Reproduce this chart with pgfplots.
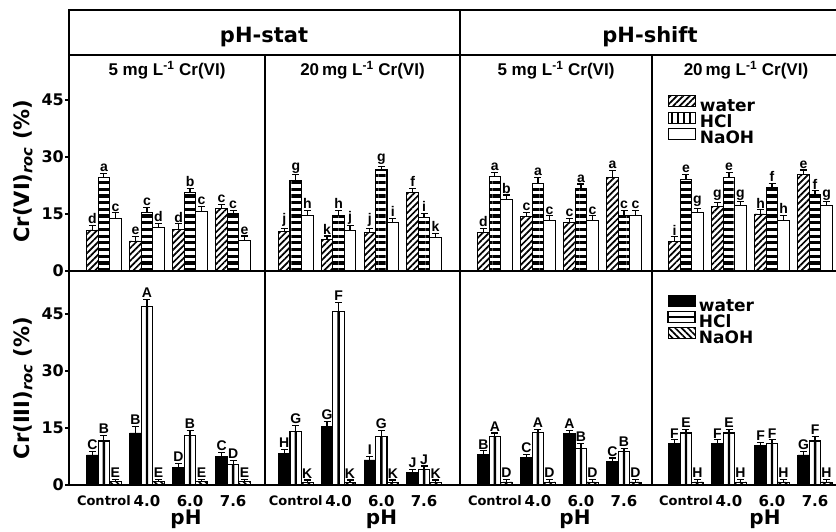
\documentclass[border=0pt]{standalone}
\usepackage{pgfplots}
\pgfplotsset{compat=1.18}
\usepackage{pgfplotstable}
\usepackage{fontspec}
\setmainfont{DejaVu Sans}
\newfontfamily\arial{Liberation Sans}
\usetikzlibrary{patterns.meta}

% top row: Cr(VI)roc ; columns: water, HCl, NaOH (value, error, letter)
\pgfplotstableread{
x w we wl h he hl n ne nl
0 10.8 1.2 d 24.7 1.0 a 13.9 1.4 c
1 7.9 1.1 e 15.3 1.4 c 11.4 1.1 d
2 11.0 1.4 d 20.6 1.2 b 15.6 1.3 c
3 16.5 1.1 c 15.0 0.9 c 8.0 1.2 e
}\TA
\pgfplotstableread{
x w we wl h he hl n ne nl
0 10.3 0.9 j 23.8 1.5 g 14.7 1.2 h
1 8.2 1.0 k 14.7 1.2 h 10.6 1.3 j
2 10.2 1.0 j 26.6 1.0 g 12.7 1.2 i
3 20.6 1.1 f 14.0 1.2 i 8.8 1.1 k
}\TB
\pgfplotstableread{
x w we wl h he hl n ne nl
0 10.2 1.0 d 24.8 1.2 a 18.9 1.1 b
1 14.3 1.1 c 23.1 1.5 a 13.2 1.3 c
2 12.8 1.1 c 21.8 1.1 a 13.2 1.3 c
3 24.6 1.8 a 14.7 1.2 c 14.7 1.2 c
}\TC
\pgfplotstableread{
x w we wl h he hl n ne nl
0 7.7 1.3 i 24.1 1.3 e 15.4 1.1 g
1 16.9 1.1 g 24.6 1.4 e 17.2 1.0 g
2 15.0 1.1 h 21.9 1.2 f 13.4 1.3 h
3 25.3 1.3 e 20.0 1.1 f 17.2 1.0 g
}\TD
% bottom row: Cr(III)roc
\pgfplotstableread{
x w we wl h he hl n ne nl
0 7.9 0.9 C 11.6 1.4 B 0.9 0.6 E
1 13.7 1.7 B 47.0 1.9 A 0.9 0.6 E
2 4.6 1.1 D 13.0 1.3 B 0.9 0.6 E
3 7.5 1.0 C 5.5 0.9 D 0.9 0.6 E
}\BA
\pgfplotstableread{
x w we wl h he hl n ne nl
0 8.4 0.9 H 14.1 1.6 G 0.7 0.6 K
1 15.3 1.5 G 45.6 2.5 F 0.7 0.6 K
2 6.6 0.9 I 12.8 1.5 G 0.7 0.6 K
3 3.4 0.7 J 4.1 0.9 J 0.7 0.6 K
}\BB
\pgfplotstableread{
x w we wl h he hl n ne nl
0 8.1 0.9 B 12.8 0.9 A 0.8 0.6 D
1 7.2 0.9 C 13.8 0.9 A 0.8 0.6 D
2 13.5 0.9 A 9.7 1.3 B 0.8 0.6 D
3 6.2 0.9 C 8.8 0.9 B 0.8 0.6 D
}\BC
\pgfplotstableread{
x w we wl h he hl n ne nl
0 11.0 0.9 F 13.7 1.0 E 0.8 0.6 H
1 11.0 0.9 F 13.7 1.0 E 0.8 0.6 H
2 10.3 0.9 F 11.0 0.9 F 0.8 0.6 H
3 7.9 0.9 G 11.6 1.2 F 0.8 0.6 H
}\BD

\pgfplotsset{
  panel/.style={scale only axis, anchor=south west, ybar, bar width=11.5pt,
    ymin=0, enlargelimits=false, axis line style={line width=1.4pt},
    xtick=\empty, ytick=\empty,
    tick style={line width=1.2pt, black}, major tick length=4pt,
    ytick align=outside, ytick pos=left,
    /pgf/number format/assume math mode=true,
    yticklabel style={font=\fontsize{16}{16}\selectfont\bfseries, inner sep=1pt},
    clip=false},
  toprow/.style={panel, height=216pt, ymax=56.84},
  botrow/.style={panel, height=214pt, ymax=56.32, xtick={0,1,2,3},
    xticklabels={\fontsize{13}{13}\selectfont Control, 4.0, 6.0, 7.6},
    xtick style={draw=none},
    xticklabel style={font=\fontsize{15}{15}\selectfont\bfseries, inner sep=0pt, anchor=north, yshift=-6pt},
    xlabel={pH},
    xlabel style={font=\fontsize{20}{20}\selectfont\bfseries, at={(axis description cs:0.5,0)}, anchor=center, yshift=-34pt, xshift=19pt}},
  sub/.style={title={#1}, title style={at={(axis description cs:0.5,1)}, anchor=base, yshift=-27pt, font=\arial\bfseries\fontsize{17}{17}\selectfont, inner sep=0pt}},
  lab/.style={draw=none, fill=none, forget plot, point meta=explicit symbolic, nodes near coords,
    every node near coord/.append style={anchor=south, inner sep=0pt, yshift=1.5pt, font=\arial\bfseries\fontsize{14}{14}\selectfont, black}},
  errs/.style={error bars/.cd, y dir=plus, y explicit,
    error bar style={line width=1.2pt, black},
    error mark options={line width=1.2pt, black, mark size=3.5pt, rotate=90}},
  sL/.style={bar shift=-11.5pt}, sC/.style={bar shift=0pt}, sR/.style={bar shift=11.5pt},
  tw/.style={draw=black, line width=0.8pt, pattern={Lines[angle=45,distance=4.5pt,line width=1.7pt]}},
  th/.style={draw=black, line width=1.2pt, pattern={Lines[angle=0,distance=6.7pt,line width=3.2pt]}},
  tn/.style={draw=black, line width=1pt, fill=white},
  bw/.style={draw=black, line width=0.8pt, fill=black},
  bh/.style={draw=black, line width=1.2pt, fill=white},
  bn/.style={draw=black, line width=0.8pt, pattern={Lines[angle=-45,distance=4.5pt,line width=1.7pt]}},
  leg/.style={legend style={at={(0.08,#1)}, anchor=north west, draw=none, fill=none, inner sep=0pt,
    row sep=-3pt, column sep=3pt, font=\fontsize{17}{17}\selectfont\bfseries,
    nodes={inner sep=0pt, text height=12pt, text depth=3pt}}, legend cell align=left},
}

\newcommand\labels[1]{%
  \addplot[sL, lab] table[x=x, y expr=\thisrow{w}+\thisrow{we}, meta=wl]{#1};
  \addplot[sC, lab] table[x=x, y expr=\thisrow{h}+\thisrow{he}, meta=hl]{#1};
  \addplot[sR, lab] table[x=x, y expr=\thisrow{n}+\thisrow{ne}, meta=nl]{#1};
}
\newcommand\topbars[1]{%
  \addplot[sL, tw, forget plot, errs] table[x=x, y=w, y error=we]{#1};
  \addplot[sC, th, forget plot, errs] table[x=x, y=h, y error=he]{#1};
  \addplot[sR, tn, forget plot, errs] table[x=x, y=n, y error=ne]{#1};
  \labels{#1}
}
\newcommand\botbars[1]{%
  \addplot[sL, bw, forget plot, errs] table[x=x, y=w, y error=we]{#1};
  \addplot[sC, bh, forget plot, errs] table[x=x, y=h, y error=he]{#1};
  \addplot[sC, bar width=2.4pt, fill=black, draw=none, forget plot] table[x=x, y=h]{#1};
  \addplot[sR, bn, forget plot, errs] table[x=x, y=n, y error=ne]{#1};
  \labels{#1}
}

\begin{document}
\begin{tikzpicture}
\path[use as bounding box, clip] (0pt,0pt) rectangle (836pt,531pt);

% header row
\draw[line width=1.4pt] (69pt,476pt) rectangle (840pt,521pt);
\draw[line width=1.4pt] (460pt,476pt) -- (460pt,521pt);
\node[anchor=base, font=\fontsize{21}{21}\selectfont\bfseries] at (264pt,488pt) {pH-stat};
\node[anchor=base, font=\fontsize{21}{21}\selectfont\bfseries] at (650pt,488pt) {pH-shift};

% ---------- top row ----------
\begin{axis}[toprow, at={(69pt,260pt)}, width=196pt, xmin=-0.81, xmax=3.74,
  sub={5 mg L\textsuperscript{-1} Cr(VI)}, ytick={0,15,30,45},
  ylabel={Cr(VI)\textsubscript{\itshape roc} (\%)},
  ylabel style={at={(axis description cs:0,0.463)}, anchor=center, yshift=46pt, font=\fontsize{21}{21}\selectfont\bfseries}]
\topbars{\TA}
\end{axis}
\begin{axis}[toprow, at={(265pt,260pt)}, width=195pt, xmin=-0.72, xmax=3.84,
  sub={20\,mg L\textsuperscript{-1} Cr(VI)}]
\topbars{\TB}
\end{axis}
\begin{axis}[toprow, at={(460pt,260pt)}, width=192pt, xmin=-0.81, xmax=3.65,
  sub={5 mg L\textsuperscript{-1} Cr(VI)}]
\topbars{\TC}
\end{axis}
\begin{axis}[toprow, at={(652pt,260pt)}, width=188pt, xmin=-0.79, xmax=3.58,
  sub={20\,mg L\textsuperscript{-1} Cr(VI)}, leg=0.815]
\topbars{\TD}
\addlegendimage{legend image code/.code={\draw[line width=0.8pt, pattern={Lines[angle=45,distance=4.5pt,line width=1.7pt]}] (0pt,0pt) rectangle (27pt,11pt);}}
\addlegendentry{water}
\addlegendimage{legend image code/.code={\draw[line width=1.2pt, pattern={Lines[angle=90,distance=6pt,line width=2.6pt]}] (0pt,0pt) rectangle (27pt,11pt);}}
\addlegendentry{HCl}
\addlegendimage{legend image code/.code={\draw[line width=1pt, fill=white] (0pt,0pt) rectangle (27pt,11pt);}}
\addlegendentry{NaOH}
\end{axis}

% ---------- bottom row ----------
\begin{axis}[botrow, at={(69pt,46pt)}, width=196pt, xmin=-0.81, xmax=3.74,
  ytick={0,15,30,45},
  ylabel={Cr(III)\textsubscript{\itshape roc} (\%)},
  ylabel style={at={(axis description cs:0,0.453)}, anchor=center, yshift=46pt, font=\fontsize{21}{21}\selectfont\bfseries}]
\botbars{\BA}
\end{axis}
\begin{axis}[botrow, at={(265pt,46pt)}, width=195pt, xmin=-0.72, xmax=3.84]
\botbars{\BB}
\end{axis}
\begin{axis}[botrow, at={(460pt,46pt)}, width=192pt, xmin=-0.81, xmax=3.65]
\botbars{\BC}
\end{axis}
\begin{axis}[botrow, at={(652pt,46pt)}, width=188pt, xmin=-0.79, xmax=3.58, leg=0.888]
\botbars{\BD}
\addlegendimage{legend image code/.code={\draw[line width=0.8pt, fill=black] (0pt,0pt) rectangle (27pt,11pt);}}
\addlegendentry{water}
\addlegendimage{legend image code/.code={\draw[line width=1.2pt, fill=white] (0pt,0pt) rectangle (27pt,11pt); \draw[line width=1.6pt] (0pt,5.5pt) -- (27pt,5.5pt);}}
\addlegendentry{HCl}
\addlegendimage{legend image code/.code={\draw[line width=0.8pt, pattern={Lines[angle=-45,distance=4.5pt,line width=1.7pt]}] (0pt,0pt) rectangle (27pt,11pt);}}
\addlegendentry{NaOH}
\end{axis}
\end{tikzpicture}
\end{document}
